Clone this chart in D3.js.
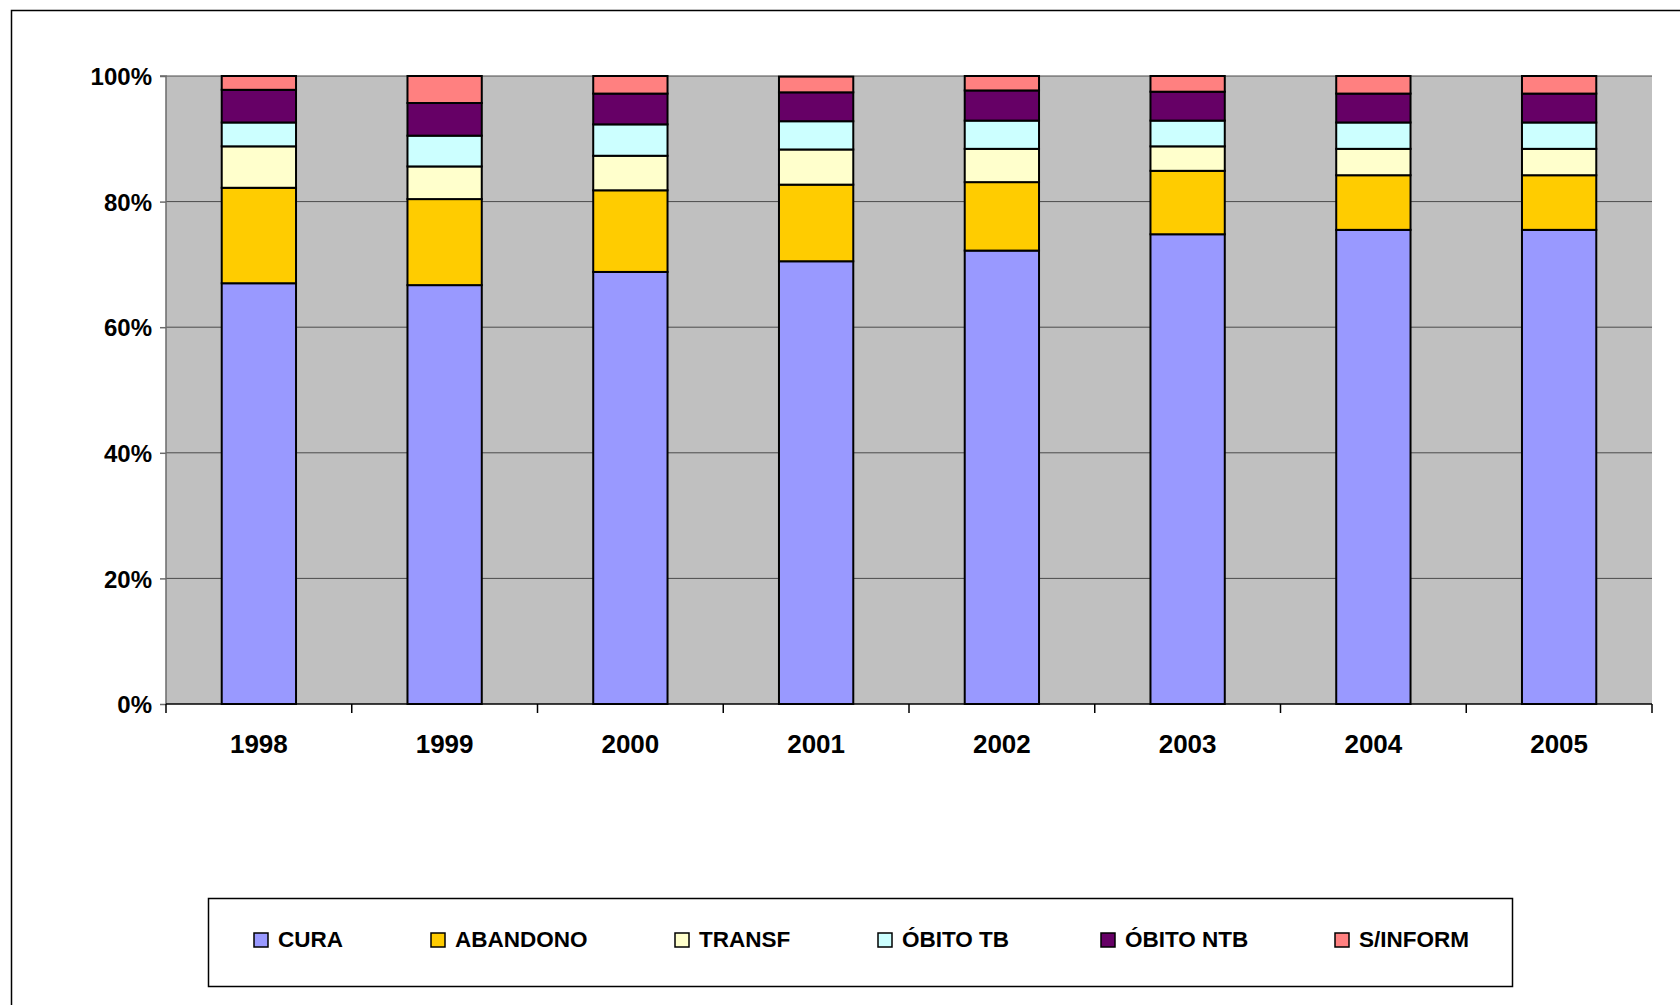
<!DOCTYPE html>
<html>
<head>
<meta charset="utf-8">
<script src="https://cdn.jsdelivr.net/npm/d3@7"></script>
<style>
  html, body { margin: 0; padding: 0; background: #fff; }
  svg { display: block; }
  text { font-family: "Liberation Sans", Arial, sans-serif; font-weight: bold; fill: #000; }
</style>
</head>
<body>
<svg id="chart" width="1680" height="1005"></svg>
<script>
// ---- data ----
const years = ["1998", "1999", "2000", "2001", "2002", "2003", "2004", "2005"];
const seriesNames = ["CURA", "ABANDONO", "TRANSF", "ÓBITO TB", "ÓBITO NTB", "S/INFORM"];
const cura      = [67.0, 66.7, 68.8, 70.5, 72.2, 74.8, 75.5, 75.5];
const abandono  = [15.2, 13.7, 13.0, 12.2, 10.9, 10.1,  8.7,  8.7];
const transf    = [ 6.6,  5.2,  5.5,  5.6,  5.3,  3.9,  4.2,  4.2];
const obitoTb   = [ 3.8,  4.9,  5.0,  4.5,  4.5,  4.1,  4.2,  4.2];
const obitoNtb  = [ 5.2,  5.2,  4.9,  4.6,  4.8,  4.6,  4.6,  4.6];
const sInform   = [ 2.2,  4.3,  2.8,  2.5,  2.3,  2.5,  2.8,  2.8];
const yTicks = [0, 20, 40, 60, 80, 100];
const colors = ["#9999FF", "#FFCC00", "#FFFFCC", "#CCFFFF", "#660066", "#FF8080"];

const seriesValues = [cura, abandono, transf, obitoTb, obitoNtb, sInform];
const rows = years.map((y, i) => {
  const r = { year: y };
  seriesNames.forEach((s, k) => { r[s] = seriesValues[k][i]; });
  return r;
});

// ---- layout ----
const svg = d3.select("#chart");
const plot = { left: 166, right: 1652, top: 76, bottom: 704 };

// outer frame
svg.append("rect")
  .attr("x", 11.5).attr("y", 10.5)
  .attr("width", 1700).attr("height", 1100)
  .attr("fill", "none").attr("stroke", "#000").attr("stroke-width", 1.5);

const xOuter = d3.scaleBand().domain(years).range([plot.left, plot.right]);
const y = d3.scaleLinear().domain([0, 100]).range([plot.bottom, plot.top]);

// plot background
svg.append("rect")
  .attr("x", plot.left).attr("y", plot.top)
  .attr("width", plot.right - plot.left).attr("height", plot.bottom - plot.top)
  .attr("fill", "#C0C0C0");

// gridlines
svg.append("g").selectAll("line").data(yTicks.filter(t => t > 0)).join("line")
  .attr("x1", plot.left).attr("x2", plot.right)
  .attr("y1", d => y(d)).attr("y2", d => y(d))
  .attr("stroke", "#4a4a4a").attr("stroke-width", 1);

// stacked bars
const stack = d3.stack().keys(seriesNames);
const stacked = stack(rows);
const bw = xOuter.bandwidth() / 2.5;
const g = svg.append("g");
stacked.forEach((layer, k) => {
  g.selectAll(null).data(layer).join("rect")
    .attr("x", d => xOuter(d.data.year) + (xOuter.bandwidth() - bw) / 2)
    .attr("y", d => y(d[1]))
    .attr("width", bw)
    .attr("height", d => y(d[0]) - y(d[1]))
    .attr("fill", colors[k])
    .attr("stroke", "#000").attr("stroke-width", 2);
});

// y axis
const yAxis = d3.axisLeft(y).tickValues(yTicks).tickFormat(d => d + "%").tickSize(6).tickPadding(8);
const yg = svg.append("g").attr("transform", `translate(${plot.left},0)`).call(yAxis);
yg.select(".domain").attr("stroke", "#6b6b6b").attr("stroke-width", 1.5).attr("d", `M-6,${plot.top}H0V${plot.bottom}`);
yg.selectAll(".tick line").attr("stroke", "#6b6b6b").attr("stroke-width", 1.5);
yg.selectAll(".tick text").attr("font-size", 24).attr("dy", "0.36em")
  .style("font-family", '"Liberation Sans", Arial, sans-serif').style("font-weight", "bold");

// x axis
const xAxis = d3.axisBottom(xOuter).tickSize(0).tickPadding(0);
const xg = svg.append("g").attr("transform", `translate(0,${plot.bottom})`).call(xAxis);
xg.select(".domain").attr("stroke", "#000").attr("stroke-width", 1.5).attr("d", `M${plot.left},0H${plot.right}`);
xg.selectAll(".tick text").attr("font-size", 26).attr("y", 49).attr("dy", 0)
  .style("font-family", '"Liberation Sans", Arial, sans-serif').style("font-weight", "bold");
const bounds = years.map(yr => xOuter(yr)).concat([plot.right]);
svg.append("g").selectAll("line").data(bounds).join("line")
  .attr("x1", d => d).attr("x2", d => d)
  .attr("y1", plot.bottom).attr("y2", plot.bottom + 9)
  .attr("stroke", "#000").attr("stroke-width", 1.5);

// legend
const legend = { x: 208, y: 898, w: 1304, h: 88 };
svg.append("rect")
  .attr("x", legend.x + 0.5).attr("y", legend.y + 0.5)
  .attr("width", legend.w).attr("height", legend.h)
  .attr("fill", "#fff").attr("stroke", "#000").attr("stroke-width", 1.5);
const legendX = [254, 431, 675, 878, 1101, 1335];
const li = svg.append("g").selectAll("g").data(seriesNames).join("g")
  .attr("transform", (d, i) => `translate(${legendX[i]},933)`);
li.append("rect").attr("width", 14).attr("height", 14)
  .attr("fill", (d, i) => colors[i]).attr("stroke", "#000").attr("stroke-width", 1.5);
li.append("text").attr("x", 24).attr("y", 14).attr("font-size", 22.5).text(d => d);
</script>
</body>
</html>
